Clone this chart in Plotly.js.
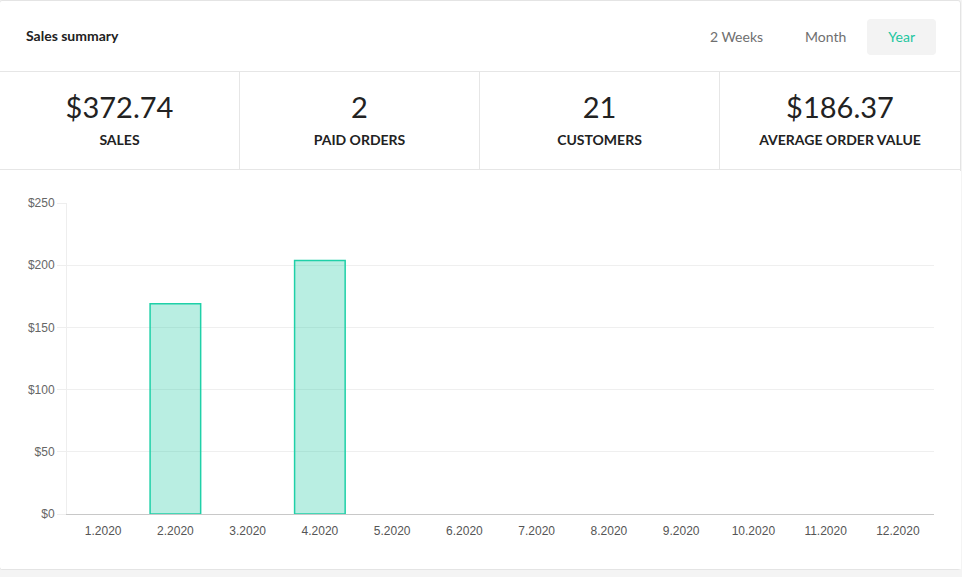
<!DOCTYPE html>
<html>
<head>
<meta charset="utf-8">
<script src="https://cdn.plot.ly/plotly-3.0.1.min.js"></script>
<style>
  html, body { margin: 0; padding: 0; }
  body { width: 962px; height: 577px; background: #f4f4f4; overflow: hidden; font-family: Lato, "Open Sans", sans-serif; }
  .card { position: absolute; left: -1px; top: 0; width: 960px; height: 568px; background: #fff;
          border: 1px solid #e4e4e4; border-radius: 3px; }
  .head { position: absolute; left: 0; top: 0; width: 960px; height: 70px; border-bottom: 1px solid #e6e6e6; }
  .title { position: absolute; left: 26px; top: 26px; font-size: 14px; font-weight: 700; color: #222; }
  .tabs { position: absolute; top: 18px; right: 24px; height: 36px; display: flex; }
  .tab { height: 36px; line-height: 36px; padding: 0 21px; font-size: 14px; color: #6f6f6f; border-radius: 4px; }
  .tab.active { background: #f3f3f3; color: #1cc6a0; }
  .stats { position: absolute; left: 0; top: 71px; width: 960px; height: 97px; border-bottom: 1px solid #e6e6e6; display: flex; }
  .stat { width: 240px; height: 97px; text-align: center; border-right: 1px solid #e6e6e6; box-sizing: border-box; }
  .stat:last-child { border-right: none; }
  .num { margin-top: 18px; font-size: 29px; line-height: 34px; color: #222; }
  .lab { margin-top: 7px; font-size: 14px; font-weight: 700; color: #222; line-height: 18px; }
  #chart { position: absolute; left: 1px; top: 170px; width: 960px; height: 398px; }
</style>
</head>
<body>
<div class="card">
  <div class="head">
    <div class="title">Sales summary</div>
    <div class="tabs">
      <div class="tab">2 Weeks</div>
      <div class="tab">Month</div>
      <div class="tab active">Year</div>
    </div>
  </div>
  <div class="stats" id="stats"></div>
  <div id="chart"></div>
</div>
<script>
// Summary figures
const statValues = ["$372.74", "2", "21", "$186.37"];
const statLabels = ["SALES", "PAID ORDERS", "CUSTOMERS", "AVERAGE ORDER VALUE"];

// Monthly sales for 2020
const months = ["1.2020", "2.2020", "3.2020", "4.2020", "5.2020", "6.2020",
                "7.2020", "8.2020", "9.2020", "10.2020", "11.2020", "12.2020"];
const sales = [0, 169.0, 0, 203.74, 0, 0, 0, 0, 0, 0, 0, 0];
const yTicks = [0, 50, 100, 150, 200, 250];

const statsEl = document.getElementById("stats");
statValues.forEach((v, i) => {
  const d = document.createElement("div");
  d.className = "stat";
  d.innerHTML = '<div class="num">' + v + '</div><div class="lab">' + statLabels[i] + '</div>';
  statsEl.appendChild(d);
});

const trace = {
  type: "bar",
  x: months,
  y: sales,
  width: 0.7,
  marker: {
    color: "rgba(24,200,160,0.3)",
    // empty months get no outline
    line: { color: "#1fd0a8", width: sales.map(v => (v > 0 ? 1.5 : 0)) }
  },
  hoverinfo: "none"
};

const layout = {
  width: 960,
  height: 398,
  margin: { l: 66, r: 27, t: 32, b: 55 },
  paper_bgcolor: "#fff",
  plot_bgcolor: "#fff",
  showlegend: false,
  bargap: 0.3,
  font: { family: "Liberation Sans, Arial, sans-serif", size: 12, color: "#666" },
  xaxis: {
    type: "category",
    showgrid: false,
    showline: true,
    linecolor: "#c8c8c8",
    linewidth: 1,
    ticks: "",
    ticklabelstandoff: 6,
    tickfont: { size: 12, color: "#555" },
    fixedrange: true
  },
  yaxis: {
    range: [0, 250],
    tickvals: yTicks,
    ticktext: yTicks.map(v => "$" + v),
    showgrid: true,
    gridcolor: "#efefef",
    zeroline: false,
    showline: true,
    linecolor: "#eeeeee",
    ticks: "outside",
    ticklen: 9,
    tickcolor: "#eeeeee",
    ticklabelstandoff: 0,
    tickfont: { size: 12, color: "#666" },
    fixedrange: true
  }
};

Plotly.newPlot("chart", [trace], layout, { staticPlot: true, displayModeBar: false });
</script>
</body>
</html>
